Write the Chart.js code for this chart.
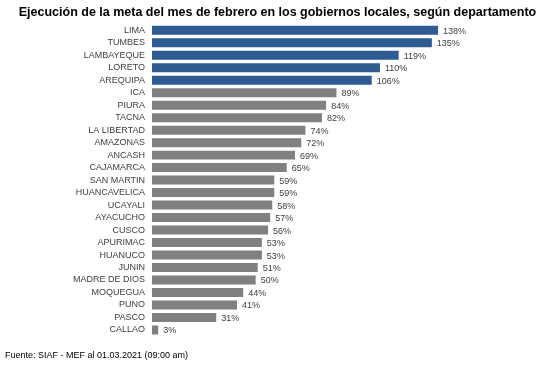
<!DOCTYPE html>
<html>
<head>
<meta charset="utf-8">
<script src="https://cdn.jsdelivr.net/npm/chart.js@4/dist/chart.umd.min.js"></script>
<style>
  html, body { margin: 0; padding: 0; background: #fff; }
  #wrap { width: 550px; height: 366px; }
</style>
</head>
<body>
<div id="wrap"><canvas id="chart" width="550" height="366"></canvas></div>
<script>
const departamentos = ['LIMA', 'TUMBES', 'LAMBAYEQUE', 'LORETO', 'AREQUIPA', 'ICA', 'PIURA', 'TACNA',
  'LA LIBERTAD', 'AMAZONAS', 'ANCASH', 'CAJAMARCA', 'SAN MARTIN', 'HUANCAVELICA', 'UCAYALI',
  'AYACUCHO', 'CUSCO', 'APURIMAC', 'HUANUCO', 'JUNIN', 'MADRE DE DIOS', 'MOQUEGUA', 'PUNO',
  'PASCO', 'CALLAO'];
const ejecucion = [138, 135, 119, 110, 106, 89, 84, 82, 74, 72, 69, 65, 59, 59, 58, 57, 56, 53, 53,
  51, 50, 44, 41, 31, 3];
const destacados = 5; // los primeros van en azul

const colores = ejecucion.map((v, i) => i < destacados ? '#2f5b93' : '#808080');

// etiquetas de valor al final de cada barra
const etiquetas = {
  id: 'etiquetas',
  afterDatasetsDraw(chart) {
    const ctx = chart.ctx;
    const meta = chart.getDatasetMeta(0);
    ctx.save();
    ctx.font = '9px "Liberation Sans", Arial, sans-serif';
    ctx.fillStyle = '#404040';
    ctx.textAlign = 'left';
    ctx.textBaseline = 'middle';
    meta.data.forEach((bar, i) => {
      ctx.fillText(ejecucion[i] + '%', bar.x + 5, bar.y + 1);
    });
    ctx.restore();
  }
};

new Chart(document.getElementById('chart'), {
  type: 'bar',
  data: {
    labels: departamentos,
    datasets: [{
      data: ejecucion,
      backgroundColor: colores,
      borderWidth: 0,
      categoryPercentage: 1,
      barPercentage: 0.72
    }]
  },
  options: {
    indexAxis: 'y',
    responsive: false,
    animation: false,
    layout: { padding: { left: 5, right: 0, top: 0, bottom: 0 } },
    plugins: {
      legend: { display: false },
      tooltip: { enabled: false },
      title: {
        display: true,
        text: 'Ejecución de la meta del mes de febrero en los gobiernos locales, según departamento',
        color: '#000',
        font: { family: 'Liberation Sans, Arial, sans-serif', size: 12.5, weight: 'bold' },
        padding: { top: 5, bottom: 4 }
      },
      subtitle: {
        display: true,
        position: 'bottom',
        align: 'start',
        text: 'Fuente: SIAF - MEF al 01.03.2021 (09:00 am)',
        color: '#000',
        font: { family: 'Liberation Sans, Arial, sans-serif', size: 9 },
        padding: { top: 14, bottom: 5 }
      }
    },
    scales: {
      x: {
        display: false,
        min: 0,
        max: 192
      },
      y: {
        grid: { display: false, drawTicks: false },
        border: { display: false },
        ticks: {
          autoSkip: false,
          color: '#404040',
          padding: 7,
          font: { family: 'Liberation Sans, Arial, sans-serif', size: 9 }
        },
        afterFit(scale) { scale.width = 147; }
      }
    }
  },
  plugins: [etiquetas]
});
</script>
</body>
</html>
